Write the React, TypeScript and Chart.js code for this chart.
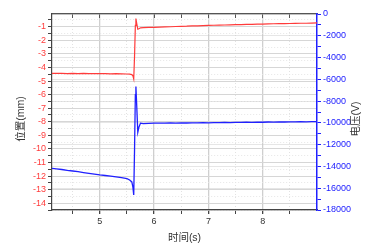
import React, { useEffect, useRef } from "react";
import { Chart, registerables } from "chart.js";

Chart.register(...registerables);

// ---- data ----
const timeS = [
  4.12, 4.2, 4.3, 4.4, 4.5, 4.6, 4.7, 4.8, 4.9, 5.0,
  5.1, 5.2, 5.3, 5.4, 5.5, 5.55, 5.59, 5.61, 5.625, 5.64,
  5.655, 5.665, 5.68, 5.7, 5.72, 5.75, 5.8, 5.9, 6.0, 6.1,
  6.2, 6.3, 6.4, 6.5, 6.6, 6.7, 6.8, 6.9, 7.0, 7.1,
  7.2, 7.3, 7.4, 7.5, 7.6, 7.7, 7.8, 7.9, 8.0, 8.1,
  8.2, 8.3, 8.4, 8.5, 8.6, 8.7, 8.8, 8.9, 9.0,
];

const positionMm = [
  -4.43, -4.44, -4.43, -4.45, -4.44, -4.45, -4.44, -4.46, -4.45, -4.46,
  -4.45, -4.47, -4.46, -4.47, -4.48, -4.49, -4.52, -4.62, -4.85, -3.2,
  -0.9, -0.4, -0.75, -1.18, -1.15, -1.08, -1.07, -1.05, -1.04, -1.02,
  -1.01, -1.0, -0.98, -0.97, -0.96, -0.94, -0.93, -0.91, -0.9, -0.89,
  -0.88, -0.87, -0.86, -0.85, -0.84, -0.83, -0.82, -0.81, -0.8, -0.79,
  -0.78, -0.77, -0.77, -0.76, -0.75, -0.74, -0.74, -0.73, -0.72,
];

const voltageV = [
  -14170, -14220, -14280, -14370, -14420, -14480, -14560, -14630, -14700, -14780,
  -14830, -14890, -14960, -15030, -15120, -15240, -15420, -15900, -16620, -12500,
  -7400, -6650, -8400, -10850, -10400, -10020, -10060, -10040, -10030, -10020,
  -10030, -10010, -10020, -10000, -10010, -9990, -10000, -9980, -9990, -9970,
  -9980, -9960, -9970, -9950, -9960, -9940, -9950, -9930, -9940, -9920,
  -9930, -9910, -9920, -9900, -9910, -9890, -9900, -9880, -9890,
];

const xTicks = [4.5, 5, 5.5, 6, 6.5, 7, 7.5, 8, 8.5];
const leftTicks = [
  -14.5, -14, -13.5, -13, -12.5, -12, -11.5, -11, -10.5, -10, -9.5, -9, -8.5, -8,
  -7.5, -7, -6.5, -6, -5.5, -5, -4.5, -4, -3.5, -3, -2.5, -2, -1.5, -1, -0.5,
];
const rightTicks = [
  0, -1000, -2000, -3000, -4000, -5000, -6000, -7000, -8000, -9000, -10000,
  -11000, -12000, -13000, -14000, -15000, -16000, -17000, -18000,
];

const xTitle = "时间(s)";
const leftTitle = "位置(mm)";
const rightTitle = "电压(V)";

const FONT = "'Liberation Sans', Arial, 'Noto Sans CJK SC', sans-serif";
const RED = "#ff3b3b";
const BLUE = "#2020ff";

const titlesPlugin = {
  id: "vTitles",
  afterDraw(chart: any) {
    const ctx = chart.ctx;
    const ca = chart.chartArea;
    const cy = (ca.top + ca.bottom) / 2 + 7;
    const draw = (text: string, x: number) => {
      ctx.save();
      ctx.translate(x, cy);
      ctx.rotate(-Math.PI / 2);
      ctx.font = `10.5px ${FONT}`;
      ctx.fillStyle = "#333333";
      ctx.textAlign = "center";
      ctx.textBaseline = "middle";
      ctx.fillText(text, 0, 0);
      ctx.restore();
    };
    draw(leftTitle, 21);
    draw(rightTitle, chart.width - 18.5);
  },
};

export default function App() {
  const ref = useRef<HTMLCanvasElement>(null);

  useEffect(() => {
    document.body.style.margin = "0";
    const canvas = ref.current;
    if (!canvas) return;

    const setTicks = (vals: number[]) => (scale: any) => {
      scale.ticks = vals.map((v) => ({ value: v }));
    };

    const chart = new Chart(canvas, {
      type: "line",
      data: {
        datasets: [
          {
            label: "位置",
            data: timeS.map((t, i) => ({ x: t, y: positionMm[i] })),
            borderColor: RED,
            borderWidth: 1.2,
            pointRadius: 0,
            tension: 0,
            xAxisID: "x",
            yAxisID: "y",
          },
          {
            label: "电压",
            data: timeS.map((t, i) => ({ x: t, y: voltageV[i] })),
            borderColor: BLUE,
            borderWidth: 1.3,
            pointRadius: 0,
            tension: 0,
            xAxisID: "x",
            yAxisID: "y1",
          },
        ],
      },
      options: {
        responsive: false,
        animation: false,
        events: [],
        layout: { padding: 0 },
        plugins: { legend: { display: false }, tooltip: { enabled: false } },
        scales: {
          x: {
            type: "linear",
            position: "bottom",
            min: 4.12,
            max: 9.0,
            afterBuildTicks: setTicks(xTicks),
            afterFit: (s: any) => { s.height = 38; },
            ticks: {
              autoSkip: false,
              maxRotation: 0,
              padding: 2,
              color: "#333333",
              font: { size: 9, family: FONT },
              callback: (v: any) => (Number.isInteger(v) ? String(v) : ""),
            },
            grid: {
              color: (c: any) => (Number.isInteger(c.tick?.value) ? "#cfcfcf" : "#e2e2e2"),
              lineWidth: (c: any) => (Number.isInteger(c.tick?.value) ? 1.3 : 1),
              tickColor: "#444444",
              tickLength: 4,
            },
            border: {
              color: "#444444",
              width: 1.2,
              dash: (c: any) => (Number.isInteger(c.tick?.value) ? [] : [1, 2]),
            },
            title: {
              display: true,
              text: xTitle,
              color: "#333333",
              font: { size: 10.5, family: FONT },
              padding: { top: 0, bottom: 4 },
            },
          },
          x2: {
            type: "linear",
            position: "top",
            min: 4.12,
            max: 9.0,
            afterBuildTicks: setTicks(xTicks),
            afterFit: (s: any) => { s.height = 14; },
            ticks: { display: false },
            grid: {
              drawOnChartArea: false,
              drawTicks: true,
              tickLength: -4,
              tickColor: "#555555",
            },
            border: { color: "#555555", width: 1.2 },
          },
          y: {
            type: "linear",
            position: "left",
            min: -14.5,
            max: -0.06,
            afterBuildTicks: setTicks(leftTicks),
            afterFit: (s: any) => { s.width = 52; },
            ticks: {
              autoSkip: false,
              padding: 2,
              color: RED,
              font: { size: 9, family: FONT },
              callback: (v: any) => (Number.isInteger(v) ? String(v) : ""),
            },
            grid: {
              color: (c: any) => (Number.isInteger(c.tick?.value) ? "#d6d6d6" : "#e6e6e6"),
              tickColor: "#444444",
              tickLength: 4,
            },
            border: {
              color: "#444444",
              width: 1.2,
              dash: (c: any) => (Number.isInteger(c.tick?.value) ? [] : [1, 2]),
            },
            title: { display: false },
          },
          y1: {
            type: "linear",
            position: "right",
            min: -18000,
            max: 0,
            afterBuildTicks: setTicks(rightTicks),
            afterFit: (s: any) => { s.width = 58; },
            ticks: {
              autoSkip: false,
              padding: 2,
              color: BLUE,
              font: { size: 9, family: FONT },
              callback: (v: any) => (v % 2000 === 0 ? String(v) : ""),
            },
            grid: {
              drawOnChartArea: true,
              color: (c: any) => (c.tick?.value % 2000 === 0 ? "rgba(200,200,200,0.45)" : "rgba(0,0,0,0)"),
              tickColor: BLUE,
              tickLength: 4,
            },
            border: { color: BLUE, width: 1.5 },
            title: { display: false },
          },
        },
      },
      plugins: [titlesPlugin],
    } as any);

    return () => chart.destroy();
  }, []);

  return <canvas ref={ref} width={375} height={248} style={{ display: "block" }} />;
}
